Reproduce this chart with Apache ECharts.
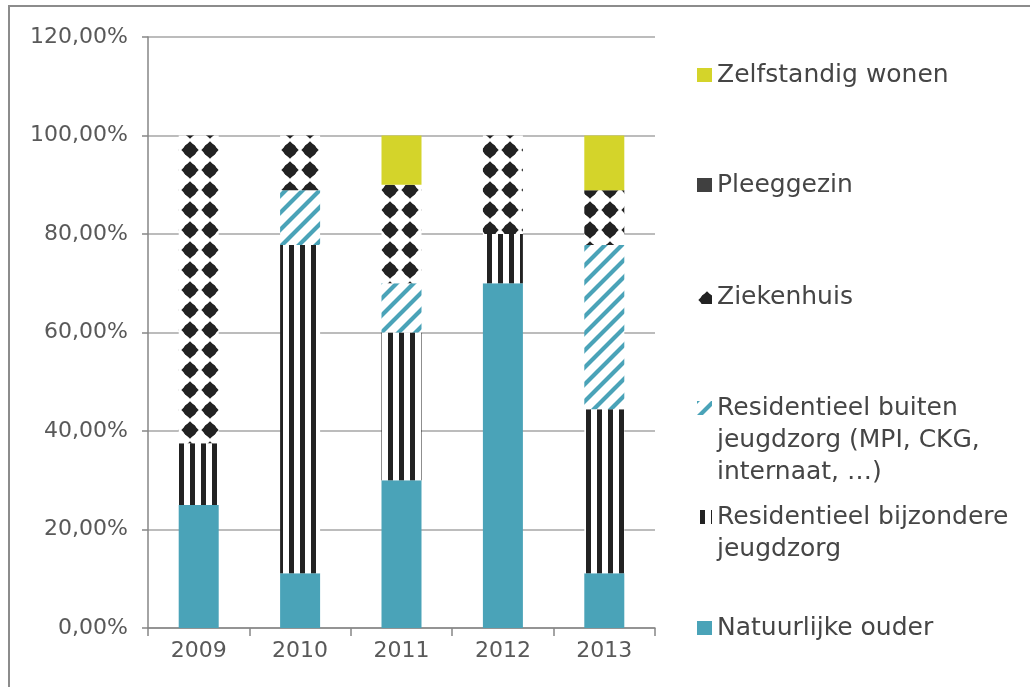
<!DOCTYPE html>
<html>
<head>
<meta charset="utf-8">
<script src="https://cdn.jsdelivr.net/npm/echarts@6/dist/echarts.min.js"></script>
<style>
  html, body { margin: 0; padding: 0; background: #fff; }
  #chart { width: 1030px; height: 687px; }
</style>
</head>
<body>
<div id="chart"></div>
<script>
var years = ['2009', '2010', '2011', '2012', '2013']
var natuurlijkeOuder = [25, 11.11, 30, 70, 11.11]
var resBijzondere = [12.5, 66.67, 30, 10, 33.33]
var resBuiten = [0, 11.11, 10, 0, 33.33]
var ziekenhuis = [62.5, 11.11, 20, 20, 11.11]
var pleeggezin = [0, 0, 0, 0, 0]
var zelfstandig = [0, 0, 10, 0, 11.11]

var teal = '#4aa3b8'
var ink = '#222222'

// small canvas tiles used as repeating fills
function makePattern(w, h, draw) {
  var c = document.createElement('canvas')
  c.width = w
  c.height = h
  var ctx = c.getContext('2d')
  ctx.fillStyle = '#ffffff'
  ctx.fillRect(0, 0, w, h)
  draw(ctx, w, h)
  return { image: c, repeat: 'repeat' }
}

var stripePattern = makePattern(11, 11, function(ctx, w, h) {
  ctx.fillStyle = ink
  ctx.fillRect(3, 0, 5, h)
})

var diagPattern = makePattern(17, 17, function(ctx, w, h) {
  ctx.strokeStyle = teal
  ctx.lineWidth = 4.2
  ctx.beginPath()
  ctx.moveTo(-9, 9); ctx.lineTo(9, -9)
  ctx.moveTo(0, 17); ctx.lineTo(17, 0)
  ctx.moveTo(8, 26); ctx.lineTo(26, 8)
  ctx.stroke()
})

var diamondPattern = makePattern(20, 20, function(ctx, w, h) {
  ctx.fillStyle = ink
  ctx.beginPath()
  ctx.moveTo(10, 1.3)
  ctx.lineTo(18.7, 10)
  ctx.lineTo(10, 18.7)
  ctx.lineTo(1.3, 10)
  ctx.closePath()
  ctx.fill()
  ctx.beginPath()
  ctx.arc(10, 10, 6.6, 0, Math.PI * 2)
  ctx.fill()
})

var chart = echarts.init(document.getElementById('chart'))

function bar(name, data, color) {
  return {
    name: name,
    type: 'bar',
    stack: 'total',
    barWidth: 40,
    data: data,
    itemStyle: { color: color }
  }
}

function legendItem(name, top, label) {
  return {
    data: [name],
    left: 697,
    top: top,
    padding: 0,
    icon: 'rect',
    itemWidth: 15,
    itemHeight: 14,
    selectedMode: false,
    formatter: function() { return label },
    textStyle: {
      fontFamily: 'DejaVu Sans',
      fontSize: 25,
      lineHeight: 32,
      color: '#454545'
    }
  }
}

var option = {
  animation: false,
  backgroundColor: '#ffffff',
  textStyle: { fontFamily: 'DejaVu Sans' },
  graphic: [{
    type: 'rect',
    z: -10,
    shape: { x: 9, y: 6, width: 1040, height: 720 },
    style: { fill: 'none', stroke: '#8c8c8c', lineWidth: 2 }
  }],
  grid: { left: 148, right: 375, top: 37, bottom: 59 },
  legend: [
    legendItem('Zelfstandig wonen', 59, 'Zelfstandig wonen'),
    legendItem('Pleeggezin', 169, 'Pleeggezin'),
    legendItem('Ziekenhuis', 281, 'Ziekenhuis'),
    legendItem('Residentieel buiten jeugdzorg', 328, '\n\nResidentieel buiten\njeugdzorg (MPI, CKG,\ninternaat, …)'),
    legendItem('Residentieel bijzondere jeugdzorg', 469, '\nResidentieel bijzondere\njeugdzorg'),
    legendItem('Natuurlijke ouder', 612, 'Natuurlijke ouder')
  ],
  xAxis: {
    type: 'category',
    data: years,
    axisLine: { lineStyle: { color: '#868686', width: 1.5 } },
    axisTick: { show: true, length: 8, lineStyle: { color: '#868686', width: 1.5 } },
    axisLabel: { fontSize: 22, color: '#595959', margin: 12 }
  },
  yAxis: {
    type: 'value',
    min: 0,
    max: 120,
    interval: 20,
    axisLine: { show: true, lineStyle: { color: '#868686', width: 1.5 } },
    axisTick: { show: true, length: 6, lineStyle: { color: '#868686', width: 1.5 } },
    splitLine: { lineStyle: { color: '#a6a6a6', width: 1.5 } },
    axisLabel: {
      fontSize: 22,
      color: '#595959',
      margin: 20,
      formatter: function(v) { return v.toFixed(2).replace('.', ',') + '%' }
    }
  },
  series: [
    bar('Natuurlijke ouder', natuurlijkeOuder, teal),
    bar('Residentieel bijzondere jeugdzorg', resBijzondere, stripePattern),
    bar('Residentieel buiten jeugdzorg', resBuiten, diagPattern),
    bar('Ziekenhuis', ziekenhuis, diamondPattern),
    bar('Pleeggezin', pleeggezin, '#404040'),
    bar('Zelfstandig wonen', zelfstandig, '#d4d42a')
  ]
}

chart.setOption(option)
</script>
</body>
</html>
